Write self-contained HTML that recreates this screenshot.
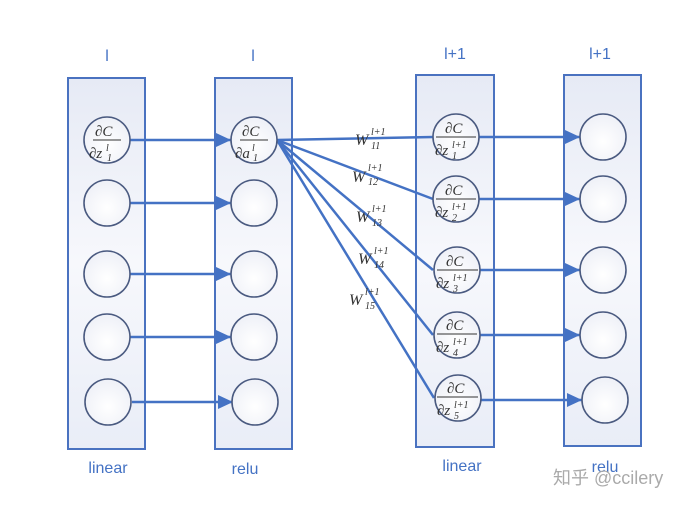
<!DOCTYPE html>
<html><head><meta charset="utf-8"><style>
html,body{margin:0;padding:0;background:#fff;width:700px;height:507px;overflow:hidden}
svg text{font-family:"Liberation Serif",serif}
svg .lab text{font-family:"Liberation Sans",sans-serif;fill:#4472c4;font-size:16px}
.f{font-style:italic;font-size:15px;fill:#333}
.s{font-style:italic;font-size:10px;fill:#333}
</style></head><body>
<svg width="700" height="507" viewBox="0 0 700 507" xmlns="http://www.w3.org/2000/svg">
<defs>
<linearGradient id="g" x1="0" y1="0" x2="0" y2="1"><stop offset="0" stop-color="#e6eaf5"/><stop offset="0.5" stop-color="#f7f8fc"/><stop offset="1" stop-color="#e9edf7"/></linearGradient>
<radialGradient id="c" cx="0.5" cy="0.6" r="0.6"><stop offset="0" stop-color="#fff"/><stop offset="1" stop-color="#eef0f7"/></radialGradient>
</defs>
<g stroke="#4a72c0" stroke-width="2" fill="url(#g)">
<rect x="68" y="78" width="77" height="371"/>
<rect x="215" y="78" width="77" height="371"/>
<rect x="416" y="75" width="78" height="372"/>
<rect x="564" y="75" width="77" height="371"/>
</g>
<g class="lab" text-anchor="middle">
<text x="107" y="61">l</text><text x="253" y="61">l</text>
<text x="455" y="59">l+1</text><text x="600" y="59">l+1</text>
<text x="108" y="473">linear</text><text x="245" y="474">relu</text>
<text x="462" y="471">linear</text><text x="605" y="472">relu</text>
</g>
<g stroke="#4472c4" stroke-width="2.5" fill="none">
<line x1="130" y1="140" x2="231" y2="140"/>
<line x1="130" y1="203" x2="231" y2="203"/>
<line x1="130" y1="274" x2="231" y2="274"/>
<line x1="130" y1="337" x2="231" y2="337"/>
<line x1="132" y1="402" x2="233" y2="402"/>
<line x1="277" y1="140" x2="433" y2="137"/>
<line x1="277" y1="140" x2="433" y2="199"/>
<line x1="277" y1="140" x2="433" y2="270"/>
<line x1="277" y1="140" x2="433" y2="335"/>
<line x1="277" y1="140" x2="434" y2="398"/>
<line x1="479" y1="137" x2="580" y2="137"/>
<line x1="479" y1="199" x2="580" y2="199"/>
<line x1="479" y1="270" x2="580" y2="270"/>
<line x1="479" y1="335" x2="580" y2="335"/>
<line x1="481" y1="400" x2="582" y2="400"/>
</g>
<g fill="#4472c4">
<path d="M216,133 L231,140 L216,147z"/><path d="M216,196 L231,203 L216,210z"/>
<path d="M216,267 L231,274 L216,281z"/><path d="M216,330 L231,337 L216,344z"/>
<path d="M218,395 L233,402 L218,409z"/>
<path d="M565,130 L580,137 L565,144z"/><path d="M565,192 L580,199 L565,206z"/>
<path d="M565,263 L580,270 L565,277z"/><path d="M565,328 L580,335 L565,342z"/>
<path d="M567,393 L582,400 L567,407z"/>
</g>
<g stroke="#4a5a80" stroke-width="1.6" fill="url(#c)">
<circle cx="107" cy="140" r="23"/><circle cx="107" cy="203" r="23"/><circle cx="107" cy="274" r="23"/><circle cx="107" cy="337" r="23"/><circle cx="108" cy="402" r="23"/>
<circle cx="254" cy="140" r="23"/><circle cx="254" cy="203" r="23"/><circle cx="254" cy="274" r="23"/><circle cx="254" cy="337" r="23"/><circle cx="255" cy="402" r="23"/>
<circle cx="456" cy="137" r="23"/><circle cx="456" cy="199" r="23"/><circle cx="457" cy="270" r="23"/><circle cx="457" cy="335" r="23"/><circle cx="458" cy="398" r="23"/>
<circle cx="603" cy="137" r="23"/><circle cx="603" cy="199" r="23"/><circle cx="603" cy="270" r="23"/><circle cx="603" cy="335" r="23"/><circle cx="605" cy="400" r="23"/>
</g>
<g stroke="#333" stroke-width="1">
<line x1="93" y1="140" x2="121" y2="140"/><line x1="240" y1="140" x2="268" y2="140"/>
<line x1="436" y1="137" x2="476" y2="137"/><line x1="436" y1="199" x2="476" y2="199"/>
<line x1="437" y1="270" x2="478" y2="270"/><line x1="437" y1="334" x2="477" y2="334"/><line x1="437" y1="397" x2="478" y2="397"/>
</g>
<g class="f">
<text x="95" y="136">∂C</text><text x="89" y="158">∂z</text><text x="106" y="151" class="s">l</text><text x="107" y="161" class="s">1</text>
<text x="242" y="136">∂C</text><text x="235" y="158">∂a</text><text x="252" y="151" class="s">l</text><text x="253" y="161" class="s">1</text>
</g>
<g class="f">
<text x="445" y="133">∂C</text><text x="435" y="155">∂z</text><text x="452" y="148" class="s">l+1</text><text x="452" y="159" class="s">1</text>
<text x="445" y="195">∂C</text><text x="435" y="217">∂z</text><text x="452" y="210" class="s">l+1</text><text x="452" y="221" class="s">2</text>
<text x="446" y="266">∂C</text><text x="436" y="288">∂z</text><text x="453" y="281" class="s">l+1</text><text x="453" y="292" class="s">3</text>
<text x="446" y="330">∂C</text><text x="436" y="352">∂z</text><text x="453" y="345" class="s">l+1</text><text x="453" y="356" class="s">4</text>
<text x="447" y="393">∂C</text><text x="437" y="415">∂z</text><text x="454" y="408" class="s">l+1</text><text x="454" y="419" class="s">5</text>
</g>
<g class="f">
<text x="355" y="145" style="font-size:16px">W</text><text x="371" y="135" class="s">l+1</text><text x="371" y="149" class="s">11</text>
<text x="352" y="182" style="font-size:16px">W</text><text x="368" y="171" class="s">l+1</text><text x="368" y="185" class="s">12</text>
<text x="356" y="222" style="font-size:16px">W</text><text x="372" y="212" class="s">l+1</text><text x="372" y="226" class="s">13</text>
<text x="358" y="264" style="font-size:16px">W</text><text x="374" y="254" class="s">l+1</text><text x="374" y="268" class="s">14</text>
<text x="349" y="305" style="font-size:16px">W</text><text x="365" y="295" class="s">l+1</text><text x="365" y="309" class="s">15</text>
</g>
<text x="553" y="484" style="font-family:'Liberation Sans','Noto Sans CJK SC',sans-serif;font-size:18px;fill:#aaa">知乎 @ccilery</text>
</svg>
</body></html>
